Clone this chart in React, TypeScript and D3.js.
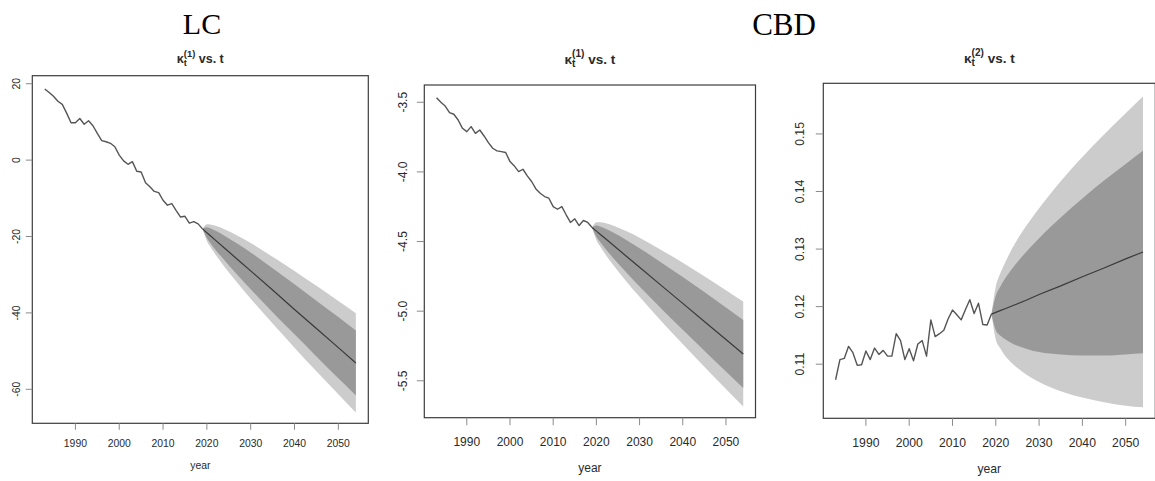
import React from "react";
import * as d3 from "d3";

// ---------- data ----------
const histYears: number[] = d3.range(1983, 2020);
const fcYears: number[] = [2019, 2020, 2021, 2022, 2024, 2027, 2030, 2035, 2040, 2045, 2050, 2054];
const xTicks: number[] = [1990, 2000, 2010, 2020, 2030, 2040, 2050];

// LC kappa1
const lcHist: number[] = [18.6, 17.7, 16.7, 15.4, 14.6, 12.3, 9.8, 9.8, 10.9, 9.4, 10.3, 9.0, 7.0, 5.1, 4.8, 4.4, 3.5, 1.3, -0.2, -1.1, -0.4, -2.9, -3.1, -5.9, -7.0, -8.2, -8.5, -10.5, -11.8, -11.4, -13.2, -14.9, -14.7, -16.5, -16.1, -16.7, -18.0];
const lcMean: number[] = [-18.0, -19.0, -20.0, -21.0, -23.0, -26.0, -29.0, -34.0, -39.1, -44.1, -49.1, -53.1];
const lcHi80: number[] = [-18.0, -17.6, -18.0, -18.5, -19.8, -21.9, -24.2, -28.3, -32.5, -36.8, -41.1, -44.6];
const lcLo80: number[] = [-18.0, -20.4, -22.0, -23.5, -26.2, -30.1, -33.8, -39.8, -45.6, -51.4, -57.1, -61.6];
const lcHi95: number[] = [-18.0, -16.8, -16.9, -17.2, -18.1, -19.8, -21.7, -25.3, -29.0, -32.9, -36.9, -40.1];
const lcLo95: number[] = [-18.0, -21.2, -23.1, -24.8, -27.9, -32.2, -36.3, -42.8, -49.1, -55.3, -61.3, -66.1];
const lcYTicks: number[] = [-60, -40, -20, 0, 20];

// CBD kappa1
const cbd1Hist: number[] = [-3.467, -3.5, -3.527, -3.574, -3.586, -3.627, -3.687, -3.711, -3.675, -3.723, -3.699, -3.742, -3.79, -3.83, -3.849, -3.854, -3.861, -3.926, -3.957, -3.998, -3.981, -4.029, -4.069, -4.122, -4.153, -4.177, -4.189, -4.249, -4.268, -4.249, -4.308, -4.363, -4.337, -4.385, -4.349, -4.363, -4.399];
const cbd1Mean: number[] = [-4.399, -4.425, -4.451, -4.477, -4.529, -4.607, -4.685, -4.815, -4.944, -5.074, -5.204, -5.308];
const cbd1Hi80: number[] = [-4.399, -4.384, -4.393, -4.406, -4.437, -4.49, -4.548, -4.65, -4.755, -4.863, -4.974, -5.064];
const cbd1Lo80: number[] = [-4.399, -4.466, -4.509, -4.549, -4.621, -4.724, -4.822, -4.98, -5.133, -5.285, -5.434, -5.552];
const cbd1Hi95: number[] = [-4.399, -4.361, -4.361, -4.367, -4.386, -4.427, -4.473, -4.56, -4.652, -4.749, -4.849, -4.931];
const cbd1Lo95: number[] = [-4.399, -4.489, -4.541, -4.588, -4.672, -4.788, -4.897, -5.07, -5.236, -5.399, -5.559, -5.685];
const cbd1YTicks: number[] = [-5.5, -5.0, -4.5, -4.0, -3.5];

// CBD kappa2
const cbd2Hist: number[] = [0.1073, 0.1108, 0.111, 0.1131, 0.112, 0.1098, 0.1099, 0.1123, 0.1108, 0.1128, 0.1117, 0.1124, 0.1114, 0.1114, 0.1153, 0.1141, 0.1108, 0.1127, 0.1106, 0.1135, 0.1141, 0.1114, 0.1177, 0.1148, 0.1153, 0.1159, 0.1179, 0.1194, 0.1186, 0.1177, 0.1195, 0.1212, 0.1188, 0.1206, 0.1169, 0.1168, 0.1187];
const cbd2Mean: number[] = [0.1187, 0.1190, 0.1193, 0.1196, 0.1202, 0.1211, 0.1221, 0.1236, 0.1252, 0.1267, 0.1283, 0.1295];
const cbd2Hi80: number[] = [0.1187, 0.1219, 0.1234, 0.1247, 0.1268, 0.1295, 0.1319, 0.1355, 0.1388, 0.1419, 0.1448, 0.1471];
const cbd2Lo80: number[] = [0.1187, 0.1159, 0.115, 0.1144, 0.1135, 0.1127, 0.1121, 0.1117, 0.1115, 0.1115, 0.1117, 0.1119];
const cbd2Hi95: number[] = [0.1187, 0.1235, 0.1257, 0.1274, 0.1304, 0.134, 0.1371, 0.1418, 0.146, 0.1499, 0.1536, 0.1565];
const cbd2Lo95: number[] = [0.1187, 0.1143, 0.1128, 0.1116, 0.11, 0.1082, 0.1069, 0.1053, 0.1042, 0.1034, 0.1028, 0.1025];
const cbd2YTicks: number[] = [0.11, 0.12, 0.13, 0.14, 0.15];

// ---------- drawing ----------
const SANS = "'Liberation Sans', Arial, Helvetica, sans-serif";
const SERIF = "'Liberation Serif', 'Times New Roman', serif";
const X_DOMAIN: [number, number] = [1980.16, 2056.84];

type PanelProps = {
  xRange: [number, number];
  yRange: [number, number];
  yDomain: [number, number];
  yTicks: number[];
  yFmt: (v: number) => string;
  hist: number[];
  mean: number[];
  hi80: number[];
  lo80: number[];
  hi95: number[];
  lo95: number[];
  sup: string;
  titleY: number;
  titleFs: number;
  axisFs: number;
  xLabY: number;
  yearY: number;
  yLabX: number;
  tick: number;
};

function Panel(p: PanelProps) {
  const x = d3.scaleLinear().domain(X_DOMAIN).range(p.xRange);
  const y = d3.scaleLinear().domain(p.yDomain).range(p.yRange);
  const idx = fcYears.map((_, i) => i);
  const area = (hi: number[], lo: number[]) =>
    d3
      .area<number>()
      .x((i) => x(fcYears[i]))
      .y0((i) => y(lo[i]))
      .y1((i) => y(hi[i]))
      .curve(d3.curveMonotoneX)(idx) || "";
  const meanLine =
    d3
      .line<number>()
      .x((i) => x(fcYears[i]))
      .y((i) => y(p.mean[i]))(idx) || "";
  const histLine =
    d3
      .line<number>()
      .x((_, i) => x(histYears[i]))
      .y((v) => y(v))(p.hist) || "";
  const [x0, x1] = p.xRange;
  const [yb, yt] = p.yRange;
  const cx = (x0 + x1) / 2;
  const fs = p.titleFs;
  const titleW = 3.75 * fs;
  const tx = cx - titleW / 2;
  return (
    <g>
      <path d={area(p.hi95, p.lo95)} fill="#cccccc" stroke="none" />
      <path d={area(p.hi80, p.lo80)} fill="#999999" stroke="none" />
      <path d={meanLine} fill="none" stroke="#3a3a3a" strokeWidth={1.2} />
      <path d={histLine} fill="none" stroke="#555555" strokeWidth={1.4} strokeLinejoin="round" />
      <rect x={x0} y={yt} width={x1 - x0} height={yb - yt} fill="none" stroke="#3c3c3c" strokeWidth={1.2} />
      {xTicks.map((t) => (
        <g key={t}>
          <line x1={x(t)} x2={x(t)} y1={yb} y2={yb + p.tick} stroke="#8a8a8a" strokeWidth={1} />
          <text x={x(t)} y={p.xLabY} textAnchor="middle" fontSize={p.axisFs} fontFamily={SANS} fill="#2a2a2a">
            {t}
          </text>
        </g>
      ))}
      {p.yTicks.map((t) => (
        <g key={t}>
          <line x1={x0 - p.tick} x2={x0} y1={y(t)} y2={y(t)} stroke="#8a8a8a" strokeWidth={1} />
          <text
            transform={`translate(${p.yLabX},${y(t)}) rotate(-90)`}
            textAnchor="middle"
            fontSize={p.axisFs}
            fontFamily={SANS}
            fill="#2a2a2a"
          >
            {p.yFmt(t)}
          </text>
        </g>
      ))}
      <text x={cx} y={p.yearY} textAnchor="middle" fontSize={p.axisFs} fontFamily={SANS} fill="#2a2a2a">
        year
      </text>
      <text x={tx} y={p.titleY} fontSize={fs} fontFamily={SANS} fontWeight="bold" fill="#2a2a2a">
        κ
        <tspan dy={-0.5 * fs} fontSize={0.75 * fs}>
          {`(${p.sup})`}
        </tspan>
        <tspan dy={0.5 * fs} fontSize={fs}>
          {"\u00a0vs. t"}
        </tspan>
      </text>
      <text x={tx + 0.55 * fs} y={p.titleY + 0.22 * fs} fontSize={0.75 * fs} fontFamily={SANS} fontWeight="bold" fill="#2a2a2a">
        t
      </text>
    </g>
  );
}

export default function App() {
  return (
    <svg
      width={1155}
      height={481}
      viewBox="0 0 1155 481"
      style={{ position: "absolute", left: 0, top: 0, background: "#ffffff" }}
    >
      <rect x={0} y={0} width={1155} height={481} fill="#ffffff" />
      <text x={202} y={34} textAnchor="middle" fontSize={30} fontFamily={SERIF} fill="#000">
        LC
      </text>
      <text x={784} y={35} textAnchor="middle" fontSize={31} fontFamily={SERIF} fill="#000">
        CBD
      </text>
      <Panel
        xRange={[32.3, 368.3]}
        yRange={[423.3, 75.7]}
        yDomain={[-68.9, 22.1]}
        yTicks={lcYTicks}
        yFmt={(v) => String(v)}
        hist={lcHist}
        mean={lcMean}
        hi80={lcHi80}
        lo80={lcLo80}
        hi95={lcHi95}
        lo95={lcLo95}
        sup="1"
        titleY={63}
        titleFs={12.5}
        axisFs={10.4}
        xLabY={446.5}
        yearY={469}
        yLabX={19.5}
        tick={6.5}
      />
      <Panel
        xRange={[424.3, 755.5]}
        yRange={[417.7, 85]}
        yDomain={[-5.765, -3.376]}
        yTicks={cbd1YTicks}
        yFmt={(v) => v.toFixed(1)}
        hist={cbd1Hist}
        mean={cbd1Mean}
        hi80={cbd1Hi80}
        lo80={cbd1Lo80}
        hi95={cbd1Hi95}
        lo95={cbd1Lo95}
        sup="1"
        titleY={64}
        titleFs={13.5}
        axisFs={12}
        xLabY={445.7}
        yearY={472}
        yLabX={407}
        tick={7.5}
      />
      <Panel
        xRange={[823.3, 1155.3]}
        yRange={[418.3, 83.3]}
        yDomain={[0.1006, 0.1588]}
        yTicks={cbd2YTicks}
        yFmt={(v) => v.toFixed(2)}
        hist={cbd2Hist}
        mean={cbd2Mean}
        hi80={cbd2Hi80}
        lo80={cbd2Lo80}
        hi95={cbd2Hi95}
        lo95={cbd2Lo95}
        sup="2"
        titleY={63}
        titleFs={13.5}
        axisFs={12.2}
        xLabY={446.5}
        yearY={473}
        yLabX={803.5}
        tick={7.5}
      />
    </svg>
  );
}
